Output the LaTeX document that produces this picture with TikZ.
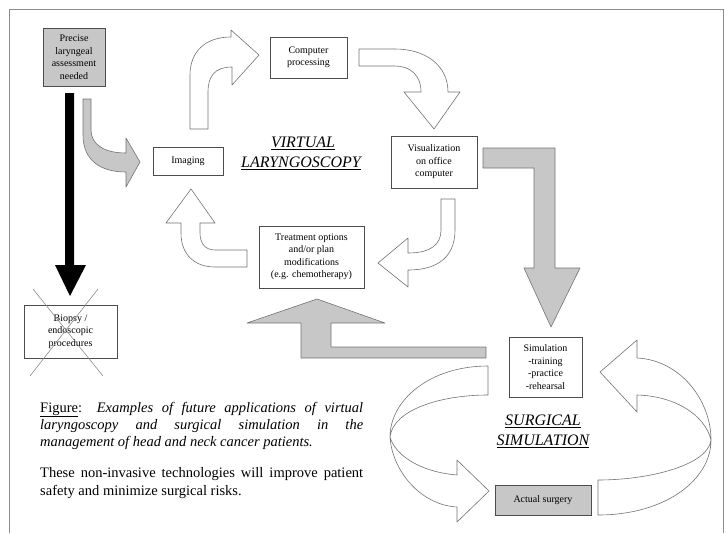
\documentclass[tikz,border=0pt]{standalone}
\usepackage{fontspec}
\setmainfont{Liberation Serif}
\begin{document}
\begin{tikzpicture}[x=1pt,y=-1pt,
  box/.style={draw=black!70,line width=0.6pt,fill=white,align=center,inner sep=1pt,
    font=\fontsize{10}{12.5}\selectfont},
  gbox/.style={box,fill=black!22},
  warrow/.style={draw=black!55,line width=0.6pt,fill=white,line join=round},
  garrow/.style={draw=black!55,line width=0.6pt,fill=black!22,line join=round},
  lbl/.style={font=\fontsize{16}{20}\selectfont\itshape,align=center,inner sep=0pt},
  captxt/.style={anchor=base west,inner sep=0pt,font=\fontsize{14.5}{17}\selectfont}]
\useasboundingbox (0,0) rectangle (728,533);
\coordinate (f1) at (9,533); \coordinate (f2) at (9,9);
\coordinate (f3) at (723,9); \coordinate (f4) at (723,533);
\draw[black!45,line width=0.6pt] (f1) -- (f2) -- (f3) -- (f4);

% nodes
\node[gbox,minimum width=62pt,minimum height=58pt] (pre) at (74,57) {Precise\\laryngeal\\assessment\\needed};
\node[box,minimum width=70pt,minimum height=28pt] (img) at (188,161) {Imaging};
\node[box,minimum width=77pt,minimum height=41pt] (comp) at (308.5,57.5) {Computer\\processing};
\node[box,minimum width=86pt,minimum height=52pt] (vis) at (434,162) {Visualization\\on office\\computer};
\node[box,minimum width=105pt,minimum height=62pt] (treat) at (311.5,257) {Treatment options\\and/or plan\\modifications\\(e.g. chemotherapy)};
\node[box,minimum width=93pt,minimum height=53pt] (bio) at (70.5,331.5) {Biopsy /\\endoscopic\\procedures};
\node[box,minimum width=73pt,minimum height=60pt] (sim) at (545.5,367) {Simulation\\-training\\-practice\\-rehearsal};
\node[gbox,minimum width=96pt,minimum height=30pt] (surg) at (543,500) {Actual surgery};

% crossed-out biopsy
\coordinate (x1) at (33,289); \coordinate (x2) at (103,376);
\coordinate (x3) at (98,289); \coordinate (x4) at (30,376);
\draw[black!45,line width=0.6pt] (x1) -- (x2) (x3) -- (x4);

% labels
\node[lbl] (vl1) at (303,143) {\underline{VIRTUAL}};
\node[lbl] (vl2) at (301,163) {\underline{LARYNGOSCOPY}};
\node[lbl] (ss1) at (543,421) {\underline{SURGICAL}};
\node[lbl] (ss2) at (543,441) {\underline{SIMULATION}};

% black arrow
\fill[black] (65,93) -- (74,93) -- (74,265) -- (86,265) -- (70,296) -- (55,265) -- (65,265) -- cycle;

% gray curved arrow pre -> imaging
\draw[garrow] (83,99) -- (83,135) .. controls (83,160) and (100,172) .. (126,172) -- (126,187) -- (140,162) -- (126,138) -- (126,153) .. controls (105,153) and (91,145) .. (91,130) -- (91,99) -- cycle;

% white arrow imaging -> computer
\draw[warrow] (190,129) -- (190,75) .. controls (190,52) and (205,37) .. (231,37) -- (231,30) -- (259,55) -- (232,85) -- (232,67) .. controls (215,67) and (208,76) .. (208,92) -- (208,129) -- cycle;

% white arrow computer -> visualization
\draw[warrow] (359,49) -- (395,49) .. controls (425,49) and (448,65) .. (448,92) -- (460,92) -- (434,129) -- (404,92) -- (421,92) .. controls (421,75) and (410,66) .. (395,66) -- (359,66) -- cycle;

% gray bent arrow vis -> sim
\draw[garrow] (483,148) -- (555,148) -- (555,268) -- (580,268) -- (551,327) -- (524,268) -- (534,268) -- (534,168) -- (483,168) -- cycle;

% white arrow vis -> treatment
\draw[warrow] (441,199) -- (441,230) .. controls (441,245) and (430,253) .. (408,253) -- (408,238) -- (378,263) -- (408,287) -- (408,270) .. controls (440,270) and (455,255) .. (455,230) -- (455,199) -- cycle;

% white arrow treatment -> imaging
\draw[warrow] (247,250) -- (215,250) .. controls (205,250) and (200,243) .. (200,233) -- (200,223) -- (215,223) -- (191,189) -- (166,223) -- (181,223) -- (181,233) .. controls (181,255) and (195,267) .. (215,267) -- (247,267) -- cycle;

% gray bent arrow sim -> treatment
\draw[garrow] (486,347) -- (331,347) -- (331,323) -- (385,323) -- (317,299) -- (247,323) -- (301,323) -- (301,358) -- (486,358) -- cycle;

% circular arrows
\draw[warrow] (488,366) .. controls (430,366) and (390,400) .. (390,437) .. controls (392,470) and (420,505) .. (457,507) -- (457,522) -- (489,491) -- (457,460) -- (457,475) .. controls (420,472) and (395,455) .. (390,437) .. controls (393,410) and (440,395) .. (488,395) -- cycle;
\draw[warrow] (598,515) .. controls (665,515) and (711,480) .. (711,440) .. controls (705,415) and (675,396) .. (637,395) -- (637,412) -- (600,372) -- (637,340) -- (637,358) .. controls (680,360) and (711,400) .. (711,440) .. controls (708,465) and (650,480) .. (598,480) -- cycle;

% caption
\node[captxt] (c1) at (40,412) {\makebox[323pt][s]{\underline{Figure}: \itshape Examples of future applications of virtual}};
\node[captxt] (c2) at (40,429) {\makebox[323pt][s]{\itshape laryngoscopy and surgical simulation in the}};
\node[captxt] (c3) at (40,446) {\itshape management of head and neck cancer patients.};
\node[captxt] (c4) at (40,477) {\makebox[323pt][s]{These non-invasive technologies will improve patient}};
\node[captxt] (c5) at (40,495) {safety and minimize surgical risks.};
\end{tikzpicture}
\end{document}
